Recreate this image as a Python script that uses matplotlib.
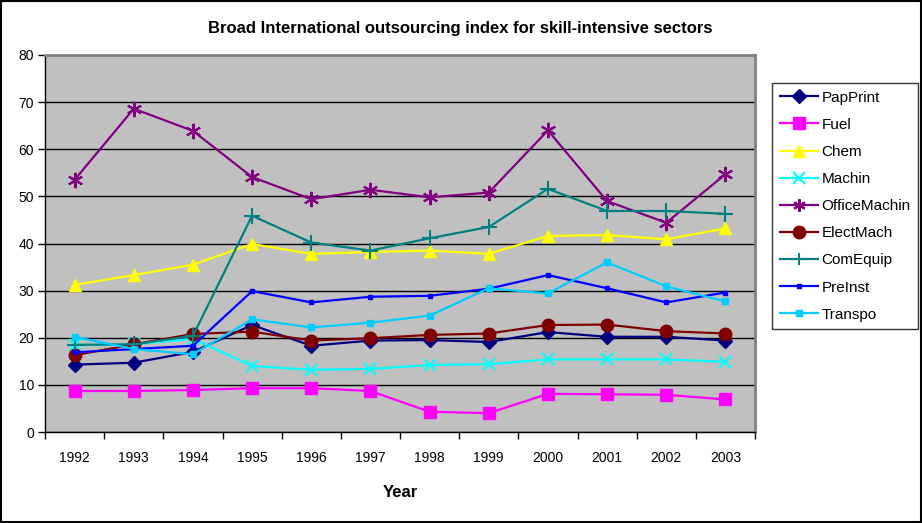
import numpy as np
import matplotlib
matplotlib.use('Agg')
import matplotlib.pyplot as plt

plt.rcParams['font.family'] = ['Liberation Sans', 'DejaVu Sans']

years = ['1992', '1993', '1994', '1995', '1996', '1997',
         '1998', '1999', '2000', '2001', '2002', '2003']

pap_print = [14.3, 14.7, 17.0, 22.7, 18.3, 19.4, 19.5, 19.1, 21.2, 20.2, 20.2, 19.4]
fuel = [8.7, 8.7, 8.9, 9.3, 9.3, 8.7, 4.3, 4.0, 8.1, 8.0, 7.9, 6.9]
chem = [31.2, 33.3, 35.5, 39.9, 37.8, 38.2, 38.5, 37.8, 41.6, 41.8, 40.9, 43.2]
machin = [18.4, 18.6, 19.8, 14.0, 13.2, 13.4, 14.2, 14.4, 15.4, 15.4, 15.4, 14.9]
office_machin = [53.5, 68.6, 63.9, 54.1, 49.4, 51.4, 49.8, 50.8, 64.0, 49.0, 44.4, 54.7]
elect_mach = [16.3, 18.6, 20.8, 21.3, 19.4, 19.9, 20.6, 20.9, 22.7, 22.8, 21.4, 20.9]
com_equip = [18.5, 18.6, 20.4, 45.9, 40.2, 38.5, 41.1, 43.5, 51.6, 46.9, 46.9, 46.3]
pre_inst = [16.9, 17.6, 18.3, 29.9, 27.5, 28.7, 28.9, 30.4, 33.3, 30.5, 27.5, 29.6]
transpo = [20.2, 17.6, 16.5, 23.9, 22.2, 23.2, 24.7, 30.5, 29.4, 36.0, 30.9, 27.7]

# name, values, colour, marker, marker size
series = [
    ('PapPrint', pap_print, '#000080', 'D', 7),
    ('Fuel', fuel, '#FF00FF', 's', 8),
    ('Chem', chem, '#FFFF00', '^', 9),
    ('Machin', machin, '#00FFFF', 'x', 9),
    ('OfficeMachin', office_machin, '#800080', (6, 2, 0), 11),
    ('ElectMach', elect_mach, '#800000', 'o', 9),
    ('ComEquip', com_equip, '#008080', '+', 11),
    ('PreInst', pre_inst, '#0000FF', 's', 3.5),
    ('Transpo', transpo, '#00CCFF', 's', 5),
]

fig = plt.figure(figsize=(9.22, 5.23), dpi=100)
ax = fig.add_axes([45 / 922, 91 / 523, 710 / 922, 377 / 523])
ax.set_facecolor('#C0C0C0')

x = np.arange(len(years))
for name, vals, color, marker, ms in series:
    mew = 1.5 if marker in ('x', '+', (6, 2, 0)) else 1
    ax.plot(x, vals, color=color, linewidth=1.6, marker=marker, markersize=ms,
            markeredgewidth=mew, markeredgecolor=color, markerfacecolor=color,
            label=name)

ax.set_ylim(0, 80)
ax.set_yticks(np.arange(0, 81, 10))
ax.yaxis.grid(True, color='black', linewidth=1)
ax.set_axisbelow(True)

ax.set_xlim(-0.5, len(years) - 0.5)
ax.set_xticks(np.arange(-0.5, len(years), 1.0))
ax.set_xticklabels([])
ax.set_xticks(x, minor=True)
ax.set_xticklabels(years, minor=True, fontsize=10)
ax.tick_params(axis='x', which='minor', length=0, pad=14)
ax.tick_params(axis='x', which='major', direction='out', length=5, width=1)
ax.tick_params(axis='y', direction='out', length=5, width=1, labelsize=10, pad=3)

for side in ('top', 'right'):
    ax.spines[side].set_color('#808080')
    ax.spines[side].set_linewidth(2)
for side in ('left', 'bottom'):
    ax.spines[side].set_color('black')
    ax.spines[side].set_linewidth(1)

ax.set_xlabel('Year', fontsize=12, fontweight='bold', labelpad=14)
fig.text(460 / 922, 1 - 28 / 523, 'Broad International outsourcing index for skill-intensive sectors',
         ha='center', va='center', fontsize=12, fontweight='bold')

leg = fig.legend(loc='upper left', bbox_to_anchor=(772 / 922, 1 - 83 / 523),
                 borderaxespad=0, frameon=True, fancybox=False, fontsize=11,
                 handlelength=2.5, labelspacing=0.86, borderpad=0.5, handletextpad=0.25)
leg.get_frame().set_edgecolor('black')
leg.get_frame().set_linewidth(1)
for h in leg.legend_handles:
    h.set_markersize(min(h.get_markersize(), 9))

# thin frame round the whole chart
fig.patches.append(plt.Rectangle((0.001, 0.001), 0.998, 0.998, transform=fig.transFigure,
                                 fill=False, edgecolor='black', linewidth=1.5))

plt.savefig('out.png', dpi=100)
